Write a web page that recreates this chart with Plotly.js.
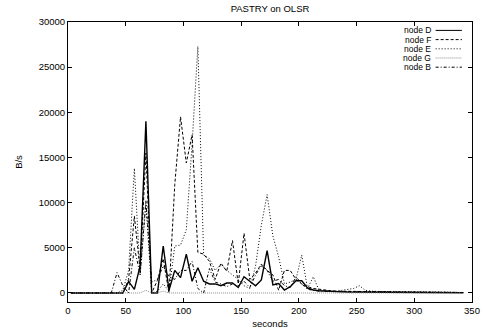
<!DOCTYPE html>
<html>
<head>
<meta charset="utf-8">
<script src="https://cdn.plot.ly/plotly-3.0.1.min.js"></script>
<style>html,body{margin:0;padding:0;background:#fff;}#chart{width:487px;height:332px;}</style>
</head>
<body>
<div id="chart"></div>
<script>
const seconds = [2.5,7.5,12.5,17.5,22.5,27.5,32.5,37.5,42.5,47.5,
  52.5,57.5,62.5,67.5,72.5,77.5,82.5,87.5,92.5,97.5,
  102.5,107.5,112.5,117.5,122.5,127.5,132.5,137.5,142.5,147.5,
  152.5,157.5,162.5,167.5,172.5,177.5,182.5,187.5,192.5,197.5,
  202.5,207.5,212.5,217.5,222.5,227.5,232.5,237.5,242.5,247.5,
  252.5,257.5,262.5,267.5,272.5,277.5,282.5,287.5,292.5,297.5,
  302.5,307.5,312.5,317.5,322.5,327.5,332.5,337.5,342.5];

const nodeD = [0,0,0,0,0,0,0,0,0,0,
  1250,400,3000,19000,0,0,5200,300,2500,1700,
  4300,1300,2800,1300,1000,1000,800,1100,1100,600,
  1800,1250,800,1450,4700,900,1050,330,700,1350,
  1350,550,330,250,200,150,150,120,100,100,
  100,90,80,80,70,70,60,60,60,50,
  50,50,50,40,40,40,30,30,30];

const nodeF = [0,0,0,0,0,0,0,0,0,0,
  1500,8500,2500,15500,0,1400,3800,0,12000,19500,
  14400,17500,4500,4300,3500,1500,3300,2400,5800,1000,
  6600,1500,2200,3200,2500,2000,300,2500,2500,1500,
  1000,700,500,400,300,250,200,200,180,150,
  150,150,150,140,130,120,120,110,100,100,
  100,90,90,80,80,70,60,60,50];

const nodeE = [0,0,0,0,0,0,0,0,0,300,
  2500,13800,2000,10000,0,200,1000,200,5200,5300,
  7000,16500,27300,4200,3800,2500,3200,2500,2000,1500,
  800,500,3000,7500,10900,6300,4000,1000,1200,1500,
  4200,500,1800,300,250,250,200,300,400,500,
  800,300,200,150,150,150,150,150,150,150,
  150,120,100,100,100,80,80,60,50];

const nodeG = [0,0,0,0,0,0,0,0,0,0,
  0,0,0,300,0,0,200,0,0,0,
  0,0,0,0,0,0,0,0,0,0,
  0,0,0,0,0,0,0,0,0,0,
  0,0,0,0,0,0,0,0,0,0,
  0,0,0,0,0,0,0,0,0,0,
  0,0,0,0,0,0,0,0,0];

const nodeB = [0,0,0,0,0,0,0,0,2250,800,
  0,5000,2000,10200,1200,1500,3000,1800,1500,2500,
  2500,3500,500,0,2700,1200,1000,700,1000,800,
  1300,600,2000,3000,2500,1300,1500,800,600,1800,
  1000,400,300,200,200,150,150,150,150,150,
  150,200,150,150,150,100,100,100,100,100,
  100,100,80,80,80,60,60,50,50];

const names = ["node D","node F","node E","node G","node B"];
const series = [nodeD, nodeF, nodeE, nodeG, nodeB];
const styles = [
  {color:"#000000", dash:"solid", width:1.4},
  {color:"#000000", dash:"3px,2px", width:1},
  {color:"#000000", dash:"1px,2px", width:1},
  {color:"#8c8c8c", dash:"1px,1px", width:1},
  {color:"#000000", dash:"3px,2px,1px,2px", width:1}
];

const FONT = "Liberation Sans, Arial, sans-serif";

const traces = series.map((ys, i) => ({
  type: "scatter", mode: "lines", name: names[i],
  x: seconds, y: ys,
  line: {color: styles[i].color, dash: styles[i].dash, width: styles[i].width},
  showlegend: false
}));

// legend built like gnuplot: text right, sample line after
const annotations = [];
const shapes = [];
const plotH = 280;
names.forEach((n, i) => {
  const py = 8.4 + 9.2 * i; // px from plot top
  const yp = 1 - py / plotH;
  annotations.push({xref:"paper", yref:"paper", x:0.90, y:yp, text:n, showarrow:false,
    xanchor:"right", yanchor:"middle", borderpad:0,
    font:{family:FONT, size:8.5, color:"#000"}});
  shapes.push({type:"line", xref:"paper", yref:"paper", x0:0.91, x1:0.975, y0:yp, y1:yp,
    line:{color:styles[i].color, dash:styles[i].dash, width:1}});
});

const layout = {
  width: 487, height: 332,
  margin: {l:68, r:15, t:22, b:30, pad:0},
  paper_bgcolor:"#fff", plot_bgcolor:"#fff",
  font: {family: FONT, size: 9.5, color:"#000"},
  title: {text:"PASTRY on OLSR", x:0.5, xref:"paper", y:1-8.5/332, yref:"container", yanchor:"middle",
    font:{family:FONT, size:9.5, color:"#000"}},
  xaxis: {range:[0,350], dtick:50, tick0:0, ticks:"inside", ticklen:4, tickcolor:"#000",
    showline:true, linecolor:"#000", linewidth:1, mirror:"ticks", showgrid:false, zeroline:false,
    title:{text:"seconds", standoff:4, font:{family:FONT, size:9.5}}, automargin:false},
  yaxis: {range:[-1000,30000], dtick:5000, tick0:0, tickformat:"d", ticks:"inside", ticklen:4, tickcolor:"#000",
    showline:true, linecolor:"#000", linewidth:1, mirror:"ticks", showgrid:false, zeroline:false,
    title:{text:"B/s", standoff:14, font:{family:FONT, size:9.5}}, automargin:false},
  annotations: annotations,
  shapes: shapes
};

Plotly.newPlot("chart", traces, layout, {staticPlot:true, displayModeBar:false});
</script>
</body>
</html>
